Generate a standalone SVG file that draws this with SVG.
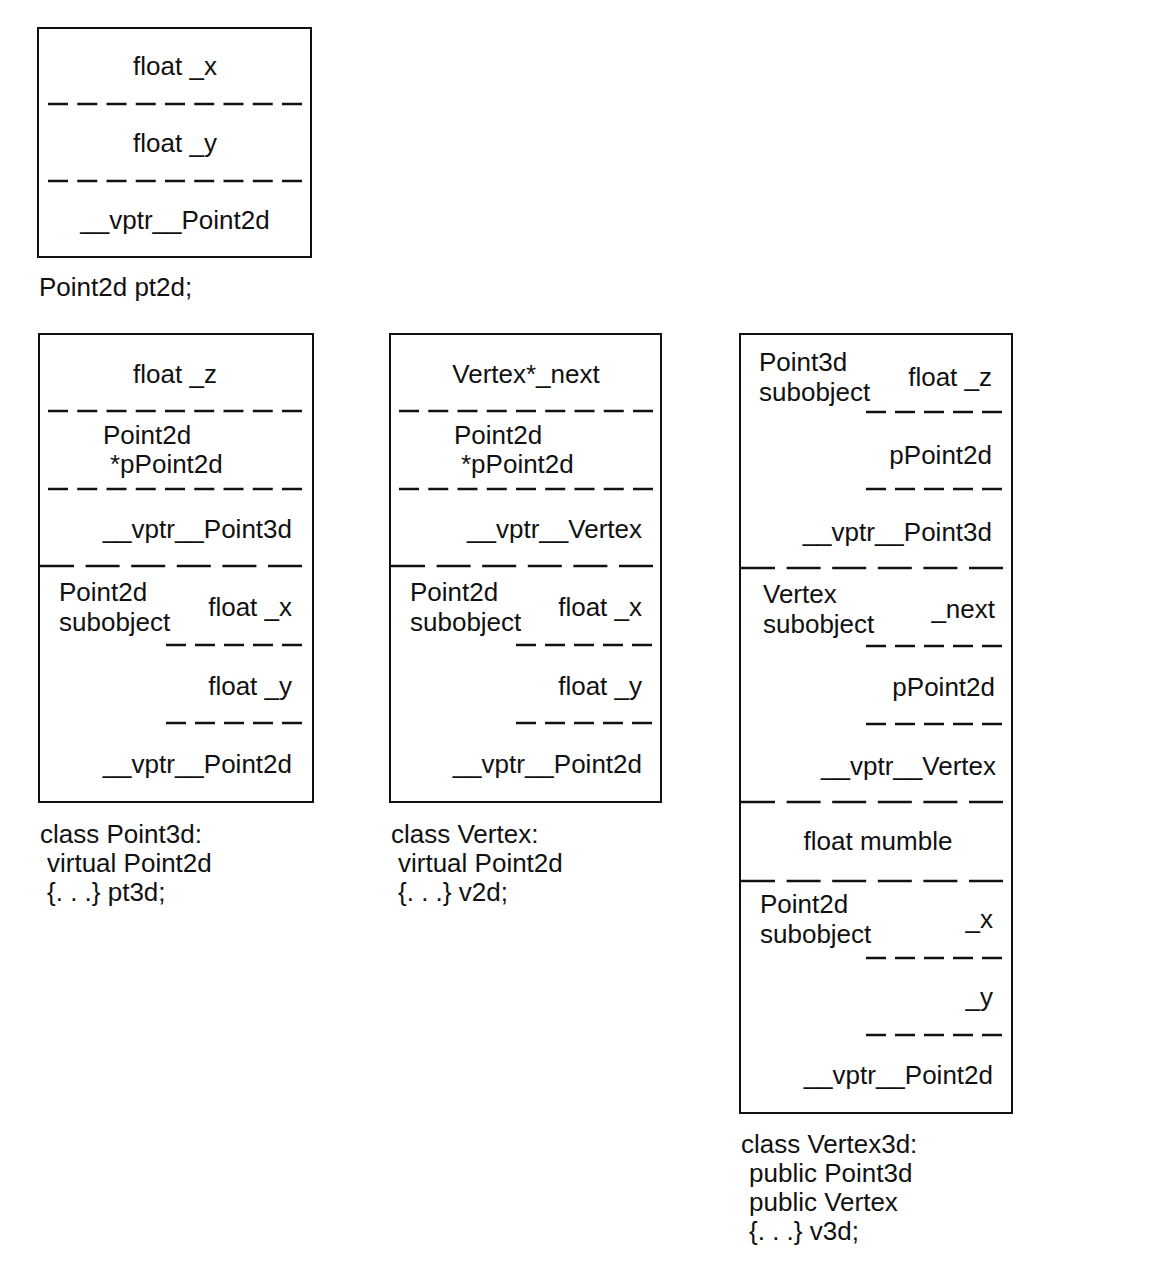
<svg xmlns="http://www.w3.org/2000/svg" width="1156" height="1262" viewBox="0 0 1156 1262">
<style>
  .box { fill: none; stroke: #111; stroke-width: 2; }
  .dash { stroke: #111; stroke-width: 2.4; fill: none; }
  text { font-family: "Liberation Sans", Arial, sans-serif; font-size: 26px; fill: #111; }
  .c { text-anchor: middle; }
  .r { text-anchor: end; }
</style>
<defs>
  <path id="d9" class="dash" d="M0,0 h20 m9.25,0 h20 m9.25,0 h20 m9.25,0 h20 m9.25,0 h20 m9.25,0 h20 m9.25,0 h20 m9.25,0 h20 m9.25,0 h20"/>
  <path id="d5" class="dash" d="M0,0 h20 m9,0 h20 m9,0 h20 m9,0 h20 m9,0 h20"/>
  <path id="d6" class="dash" d="M0,0 h34 m11.6,0 h34 m11.6,0 h34 m11.6,0 h34 m11.6,0 h34 m11.6,0 h34"/>
</defs>
<rect width="1156" height="1262" fill="#fff"/>

<g id="pt2d">
  <rect class="box" x="38" y="28" width="273" height="229"/>
  <use href="#d9" x="48" y="104"/>
  <use href="#d9" x="48" y="181"/>
  <text class="c" x="175" y="75">float _x</text>
  <text class="c" x="175" y="152">float _y</text>
  <text class="c" x="175" y="229">__vptr__Point2d</text>
  <text x="39" y="296">Point2d pt2d;</text>
</g>

<g id="pt3d">
  <rect class="box" x="39" y="334" width="274" height="468"/>
  <use href="#d9" x="48" y="411"/>
  <use href="#d9" x="48" y="489"/>
  <use href="#d6" x="40" y="566"/>
  <use href="#d5" x="166" y="645"/>
  <use href="#d5" x="166" y="723"/>
  <text class="c" x="175" y="383">float _z</text>
  <text x="103" y="444">Point2d</text>
  <text x="110" y="473">*pPoint2d</text>
  <text class="r" x="292" y="538">__vptr__Point3d</text>
  <text x="59" y="601">Point2d</text>
  <text x="59" y="631">subobject</text>
  <text class="r" x="292" y="616">float _x</text>
  <text class="r" x="292" y="695">float _y</text>
  <text class="r" x="292" y="773">__vptr__Point2d</text>
  <text x="40" y="843">class Point3d:</text>
  <text x="47" y="872">virtual Point2d</text>
  <text x="47" y="901">{. . .} pt3d;</text>
</g>

<g id="v2d">
  <rect class="box" x="390" y="334" width="271" height="468"/>
  <use href="#d9" x="399" y="411"/>
  <use href="#d9" x="399" y="489"/>
  <use href="#d6" x="391" y="566"/>
  <use href="#d5" x="516" y="645"/>
  <use href="#d5" x="516" y="723"/>
  <text class="c" x="526" y="383">Vertex*_next</text>
  <text x="454" y="444">Point2d</text>
  <text x="461" y="473">*pPoint2d</text>
  <text class="r" x="642" y="538">__vptr__Vertex</text>
  <text x="410" y="601">Point2d</text>
  <text x="410" y="631">subobject</text>
  <text class="r" x="642" y="616">float _x</text>
  <text class="r" x="642" y="695">float _y</text>
  <text class="r" x="642" y="773">__vptr__Point2d</text>
  <text x="391" y="843">class Vertex:</text>
  <text x="398" y="872">virtual Point2d</text>
  <text x="398" y="901">{. . .} v2d;</text>
</g>

<g id="v3d">
  <rect class="box" x="740" y="334" width="272" height="779"/>
  <use href="#d5" x="866" y="412"/>
  <use href="#d5" x="866" y="489"/>
  <use href="#d6" x="741" y="568"/>
  <use href="#d5" x="866" y="646"/>
  <use href="#d5" x="866" y="724"/>
  <use href="#d6" x="741" y="802"/>
  <use href="#d6" x="741" y="881"/>
  <use href="#d5" x="866" y="958"/>
  <use href="#d5" x="866" y="1035"/>
  <text x="759" y="371">Point3d</text>
  <text x="759" y="401">subobject</text>
  <text class="r" x="992" y="386">float _z</text>
  <text class="r" x="992" y="464">pPoint2d</text>
  <text class="r" x="992" y="541">__vptr__Point3d</text>
  <text x="763" y="603">Vertex</text>
  <text x="763" y="633">subobject</text>
  <text class="r" x="995" y="618">_next</text>
  <text class="r" x="995" y="696">pPoint2d</text>
  <text class="r" x="996" y="775">__vptr__Vertex</text>
  <text class="c" x="878" y="850">float mumble</text>
  <text x="760" y="913">Point2d</text>
  <text x="760" y="943">subobject</text>
  <text class="r" x="993" y="928">_x</text>
  <text class="r" x="993" y="1006">_y</text>
  <text class="r" x="993" y="1084">__vptr__Point2d</text>
  <text x="741" y="1153">class Vertex3d:</text>
  <text x="749" y="1182">public Point3d</text>
  <text x="749" y="1211">public Vertex</text>
  <text x="749" y="1240">{. . .} v3d;</text>
</g>

<g id="connectors"></g>
</svg>
